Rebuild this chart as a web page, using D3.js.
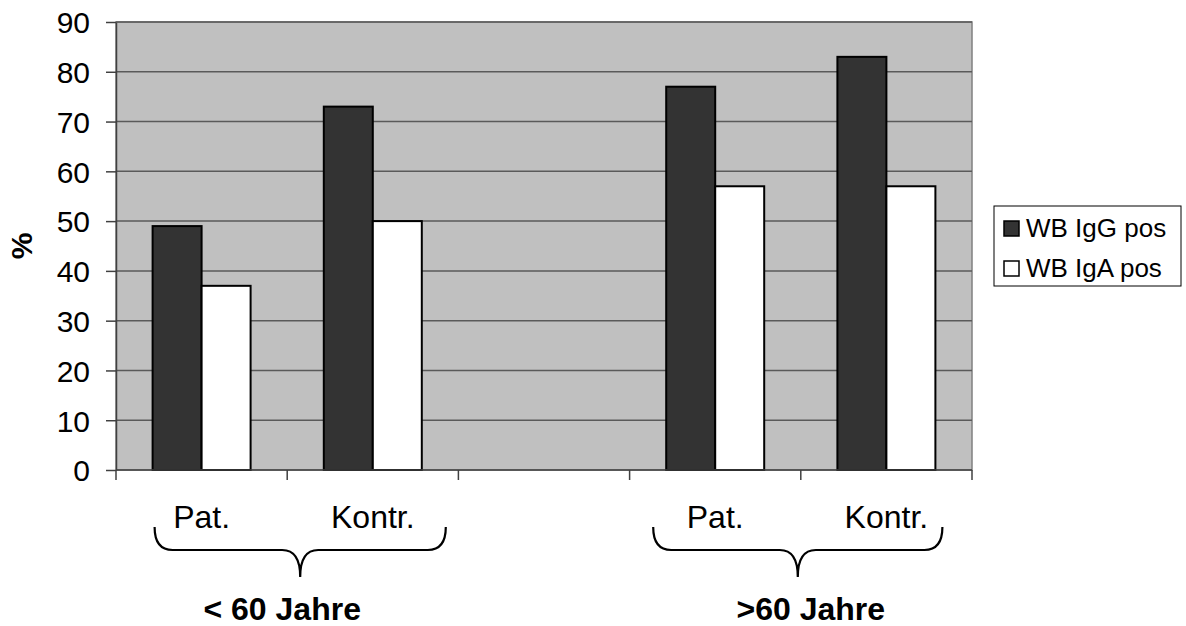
<!DOCTYPE html>
<html>
<head>
<meta charset="utf-8">
<script src="https://cdn.jsdelivr.net/npm/d3@7"></script>
<style>
  html, body { margin: 0; padding: 0; background: #fff; }
  svg { display: block; }
  text { font-family: "Liberation Sans", Arial, sans-serif; fill: #000; }
</style>
</head>
<body>
<svg id="chart" width="1186" height="626"></svg>
<script>
// ---- data ----
const categories = ["Pat.", "Kontr.", "", "Pat.", "Kontr."];
const seriesNames = ["WB IgG pos", "WB IgA pos"];
const igG = [49, 73, null, 77, 83];
const igA = [37, 50, null, 57, 57];
const yTicks = [0, 10, 20, 30, 40, 50, 60, 70, 80, 90];
const groups = [
  { label: "< 60 Jahre", from: 0, to: 1 },
  { label: ">60 Jahre", from: 3, to: 4 }
];
const seriesColors = ["#333333", "#ffffff"];

// ---- layout ----
const svg = d3.select("#chart");
const plot = { left: 116, right: 972, top: 22, bottom: 470 };

const x0 = d3.scaleBand().domain(d3.range(categories.length))
  .range([plot.left, plot.right]).paddingInner(0).paddingOuter(0);
const x1 = d3.scaleBand().domain(d3.range(seriesNames.length))
  .range([0, x0.bandwidth()]).paddingInner(0).paddingOuter(0.747);
const y = d3.scaleLinear().domain([0, 90]).range([plot.bottom, plot.top]);

// plot background
svg.append("rect")
  .attr("x", plot.left).attr("y", plot.top)
  .attr("width", plot.right - plot.left).attr("height", plot.bottom - plot.top)
  .attr("fill", "#c0c0c0").attr("stroke", "#808080").attr("stroke-width", 1.5);

// gridlines
svg.append("g").selectAll("line").data(yTicks.filter(d => d > 0)).join("line")
  .attr("x1", plot.left).attr("x2", plot.right)
  .attr("y1", d => y(d)).attr("y2", d => y(d))
  .attr("stroke", "#5a5a5a").attr("stroke-width", 1.5);

// bars
const rows = categories.map((c, i) => ({ i, vals: [igG[i], igA[i]] }));
svg.append("g").selectAll("g").data(rows).join("g")
  .attr("transform", d => `translate(${x0(d.i)},0)`)
  .selectAll("rect").data(d => d.vals.map((v, s) => ({ v, s })).filter(e => e.v != null)).join("rect")
  .attr("x", d => x1(d.s)).attr("width", x1.bandwidth())
  .attr("y", d => y(d.v)).attr("height", d => y(0) - y(d.v))
  .attr("fill", d => seriesColors[d.s]).attr("stroke", "#000").attr("stroke-width", 2);

// y axis
const yAxis = svg.append("g").attr("transform", `translate(${plot.left},0)`)
  .call(d3.axisLeft(y).tickValues(yTicks).tickSize(10).tickPadding(16).tickSizeOuter(0));
yAxis.select(".domain").attr("stroke", "#404040").attr("stroke-width", 1.5);
yAxis.selectAll(".tick line").attr("stroke", "#404040").attr("stroke-width", 1.5);
yAxis.selectAll(".tick text").attr("font-size", 30).attr("fill", "#000")
  .attr("font-family", "Liberation Sans, Arial, sans-serif").attr("dy", "0.36em");

// x axis (ticks at band boundaries)
const xBoundaries = d3.range(categories.length + 1).map(i => i === categories.length ? plot.right : x0(i));
const xAxisG = svg.append("g");
xAxisG.append("line").attr("x1", plot.left).attr("x2", plot.right)
  .attr("y1", y(0)).attr("y2", y(0)).attr("stroke", "#404040").attr("stroke-width", 1.5);
xAxisG.selectAll("line.tk").data(xBoundaries).join("line").attr("class", "tk")
  .attr("x1", d => d).attr("x2", d => d).attr("y1", y(0)).attr("y2", y(0) + 10)
  .attr("stroke", "#404040").attr("stroke-width", 1.5);

// category labels
svg.append("g").selectAll("text").data(categories.map((c, i) => ({ c, i })).filter(d => d.c)).join("text")
  .attr("x", d => x0(d.i) + x0.bandwidth() / 2).attr("y", 528)
  .attr("text-anchor", "middle").attr("font-size", 32).text(d => d.c);

// braces
function bracePath(xa, xb, xm, yTop, yMid, yTip, r) {
  return `M${xa},${yTop} Q${xa},${yMid} ${xa + r},${yMid} L${xm - r},${yMid} Q${xm},${yMid} ${xm},${yTip}` +
         ` Q${xm},${yMid} ${xm + r},${yMid} L${xb - r},${yMid} Q${xb},${yMid} ${xb},${yTop}`;
}
const braceG = svg.append("g");
groups.forEach(g => {
  const cA = x0(g.from) + x0.bandwidth() / 2;
  const cB = x0(g.to) + x0.bandwidth() / 2;
  const xa = cA - 47 - (g.from === 3 ? 15 : 0);
  const xb = cB + 73 - (g.from === 3 ? 17 : 0);
  const xm = (xa + xb) / 2;
  braceG.append("path").attr("d", bracePath(xa, xb, xm, 527, 550, 577, 18))
    .attr("fill", "none").attr("stroke", "#000").attr("stroke-width", 2.2);
  braceG.append("text").attr("x", xm - 18 + (g.from === 3 ? 31 : 0)).attr("y", 620)
    .attr("text-anchor", "middle").attr("font-size", 32).attr("font-weight", "bold").text(g.label);
});

// y axis title
svg.append("text").attr("transform", "translate(32,246) rotate(-90)")
  .attr("text-anchor", "middle").attr("font-size", 30).attr("font-weight", "bold").text("%");

// legend
const lg = svg.append("g");
lg.append("rect").attr("x", 994).attr("y", 206).attr("width", 187).attr("height", 80)
  .attr("fill", "#fff").attr("stroke", "#000").attr("stroke-width", 1);
seriesNames.forEach((n, s) => {
  const yy = 228 + s * 40;
  lg.append("rect").attr("x", 1004).attr("y", yy - 7).attr("width", 15).attr("height", 15)
    .attr("fill", seriesColors[s]).attr("stroke", "#000").attr("stroke-width", 1.5);
  lg.append("text").attr("x", 1026).attr("y", yy + 9).attr("font-size", 26).text(n);
});
</script>
</body>
</html>
